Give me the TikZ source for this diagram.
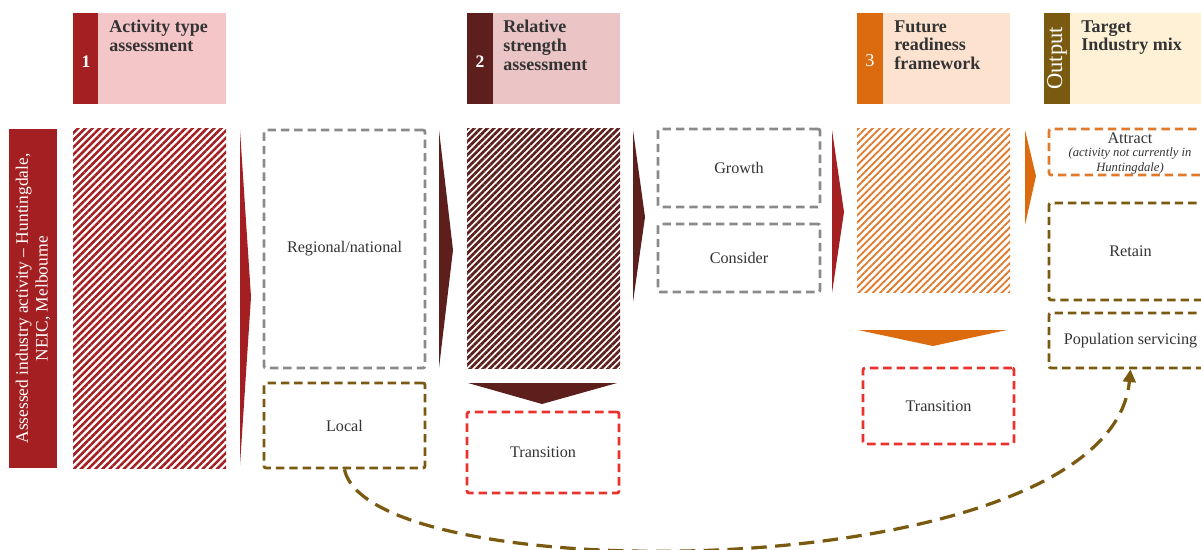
\documentclass[tikz,border=0pt]{standalone}
\usepackage{fontspec}
\setmainfont{Liberation Serif}
\usetikzlibrary{arrows.meta,fit,patterns.meta}
\definecolor{stepred}{HTML}{A31F22}
\definecolor{steppink}{HTML}{F4C6C8}
\definecolor{stepmaroon}{HTML}{5C1F1C}
\definecolor{steprose}{HTML}{EBC4C5}
\definecolor{steporange}{HTML}{DC6A0E}
\definecolor{steppeach}{HTML}{FDE3CF}
\definecolor{stepolive}{HTML}{7A5A10}
\definecolor{stepcream}{HTML}{FEF1D6}
\definecolor{dashgray}{HTML}{8A8A8A}
\definecolor{dashred}{HTML}{E8322B}
\definecolor{dashorange}{HTML}{E07B2E}
\definecolor{textgray}{HTML}{333333}
\tikzset{
  head/.style={rectangle,fill=#1,inner sep=0pt},
  stripe/.style={rectangle,fill=#1,inner sep=0pt},
  stepnum/.style={text=white,font=\fontsize{12.5}{14}\selectfont\bfseries},
  headtext/.style={anchor=north west,align=left,inner sep=0pt,text=textgray,
    font=\fontsize{12.8}{13.4}\selectfont\bfseries},
  hatchred/.style={rectangle,inner sep=0pt,
    pattern={Lines[angle=45,distance=3.6pt,line width=1.8pt]},pattern color=stepred},
  hatchdark/.style={rectangle,inner sep=0pt,
    pattern={Lines[angle=45,distance=3.3pt,line width=1.9pt]},pattern color=stepmaroon},
  hatchorange/.style={rectangle,inner sep=0pt,
    pattern={Lines[angle=45,distance=3.6pt,line width=1.3pt]},pattern color=dashorange},
  dashbox/.style={rectangle,draw=#1,dash pattern=on 6pt off 3.5pt,line width=2pt,
    rounded corners=1.5pt,inner sep=0pt},
  dashbox/.default=dashgray,
  boxtext/.style={align=center,text=textgray,font=\fontsize{11.5}{13}\selectfont},
  loop/.style={-{Triangle[length=9pt,width=9pt]},draw=stepolive,line width=2.3pt,
    dash pattern=on 11pt off 6pt}
}
\begin{document}
\begin{tikzpicture}[x=0.025cm,y=-0.025cm]
\useasboundingbox (0,0) rectangle (1201,550);
\clip (0,0) rectangle (1201,550);
% headers
\node[head=steppink,fit={(73,13)(226,104)}] (h1) {};
\node[stripe=stepred,fit={(73,13)(98,104)}] (h1s) {};
\node[stepnum] at (86,62) {1};
\node[headtext] at (109,20) {Activity type\\assessment};
\node[head=steprose,fit={(467,13)(620,104)}] (h2) {};
\node[stripe=stepmaroon,fit={(467,13)(493,104)}] (h2s) {};
\node[stepnum] at (480,62) {2};
\node[headtext] at (503,20) {Relative\\strength\\assessment};
\node[head=steppeach,fit={(857,13)(1010,104)}] (h3) {};
\node[stripe=steporange,fit={(857,13)(883,104)}] (h3s) {};
\node[stepnum,font=\fontsize{13}{14}\selectfont] at (870,61) {3};
\node[headtext] at (894,20) {Future\\readiness\\framework};
\node[head=stepcream,fit={(1044,13)(1210,104)}] (h4) {};
\node[stripe=stepolive,fit={(1044,13)(1070,104)}] (h4s) {};
\node[stepnum,rotate=90,font=\fontsize{16}{16}\selectfont] at (h4s.center) {Output};
\node[headtext] at (1081,20) {Target\\Industry mix};
% left bar
\node[head=stepred,fit={(9,129)(57,468)}] (bar) {};
\node at (bar.center) [rotate=90,align=center,text=white,font=\fontsize{12.4}{14}\selectfont]
  {Assessed industry activity -- Huntingdale,\\NEIC, Melbourne};
% step 1
\node[hatchred,fit={(73,129)(226,468)}] (act) {};
\fill[stepred] (240,130) -- (251,297) -- (240,465) -- cycle;
\node[dashbox,fit={(264,130)(425,368)},label={[boxtext]center:Regional/national}] (regional) {};
\node[dashbox=stepolive,fit={(264,383)(425,468)},label={[boxtext]center:Local}] (local) {};
% step 2
\fill[stepmaroon] (439,130) -- (453,250) -- (439,368) -- cycle;
\node[hatchdark,fit={(467,129)(620,368)}] (strength) {};
\fill[stepmaroon] (468,383) -- (617,383) -- (542,404) -- cycle;
\node[dashbox=dashred,fit={(467,412)(619,493)},label={[boxtext]center:Transition}] (trans2) {};
\fill[stepmaroon] (633,130) -- (645,217) -- (633,302) -- cycle;
\node[dashbox,fit={(658,129)(820,207)},label={[boxtext]center:Growth}] (growth) {};
\node[dashbox,fit={(658,224)(820,292)},label={[boxtext]center:Consider}] (consider) {};
% step 3
\fill[stepred] (832,130) -- (844,212) -- (832,293) -- cycle;
\node[hatchorange,fit={(857,129)(1010,292)}] (future) {};
\fill[steporange] (858,330) -- (1007,330) -- (933,346) -- cycle;
\node[dashbox=dashred,fit={(863,368)(1014,444)},label={[boxtext]center:Transition}] (trans3) {};
\fill[steporange] (1025,130) -- (1036,176) -- (1025,225) -- cycle;
% output
\node[dashbox=dashorange,fit={(1049,129)(1212,175)}] (attract) {};
\node[boxtext,inner sep=0pt] at (1130,138) {Attract};
\node[boxtext,inner sep=0pt,font=\fontsize{9}{11}\selectfont\itshape] at (1130,161)
  {(activity not currently in\\Huntingdale)};
\node[dashbox=stepolive,fit={(1049,203)(1212,300)},label={[boxtext]center:Retain}] (retain) {};
\node[dashbox=stepolive,fit={(1049,313)(1212,368)},label={[boxtext]center:Population servicing}] (popserv) {};
\draw[loop] (local.south) .. controls (370,592) and (1110,588) .. (popserv.south);
\end{tikzpicture}
\end{document}
